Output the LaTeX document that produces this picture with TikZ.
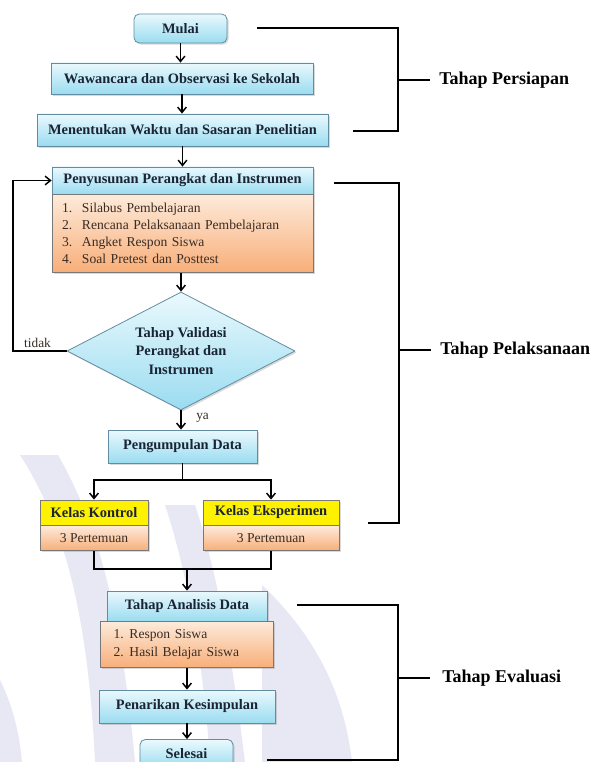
\documentclass[tikz,border=0pt]{standalone}
\usepackage{fontspec}
\setmainfont{Liberation Serif}
\usetikzlibrary{arrows.meta,shapes.geometric,shadows,positioning}

\begin{document}
\begin{tikzpicture}[x=0.75pt, y=-0.75pt,
    boxfont/.style={font=\fontsize{10.8}{13}\selectfont\bfseries, text=headtext},
    listfont/.style={font=\fontsize{10.2}{12.75}\selectfont, text=listtext},
    softshadow/.style={drop shadow={shadow xshift=1.2pt, shadow yshift=-1.2pt, opacity=0.3}},
    cyanbox/.style={rectangle, draw=cyanline, line width=0.6pt, top color=cyantop, bottom color=cyanbot, boxfont, inner sep=0pt, softshadow},
    orangebox/.style={rectangle, draw=orangeline, line width=0.6pt, top color=orangetop, bottom color=orangebot, listfont, softshadow},
    yellowbox/.style={rectangle, draw=orangeline, line width=0.6pt, fill=yellow, boxfont, inner sep=0pt, softshadow},
    decision/.style={diamond, aspect=2, draw=cyanline, line width=0.6pt, top color=cyantop, bottom color=cyanbot, boxfont, align=center, inner sep=0pt, softshadow},
    flow/.style={line width=1.1pt, -{Straight Barb[length=4pt, width=6.5pt]}},
    joinline/.style={line width=1.1pt},
    bracket/.style={line width=1.5pt},
    phase/.style={font=\fontsize{13.5}{16}\selectfont\bfseries, text=black, anchor=west, inner sep=0pt},
    note/.style={font=\fontsize{10}{12}\selectfont, text=listtext, inner sep=0pt},
    watermark/.style={fill=logotint}
]
    % Define colors
    \definecolor{cyantop}{RGB}{234, 249, 253}
    \definecolor{cyanbot}{RGB}{154, 220, 240}
    \definecolor{cyanline}{RGB}{100, 140, 160}
    \definecolor{orangetop}{RGB}{253, 234, 218}
    \definecolor{orangebot}{RGB}{248, 174, 120}
    \definecolor{orangeline}{RGB}{120, 120, 120}
    \definecolor{headtext}{RGB}{26, 36, 52}
    \definecolor{listtext}{RGB}{58, 44, 36}
    \definecolor{logotint}{RGB}{231, 232, 244}

    % Page frame
    \useasboundingbox (0,0) rectangle (593,762);

    % Faint logo in the background
    \fill[watermark] (20,455) -- (58,455) .. controls (95,520) and (120,600) .. (135,762) -- (95,762) .. controls (88,610) and (62,520) .. (20,455) -- cycle;
    \fill[watermark] (165,505) -- (195,505) .. controls (220,580) and (235,680) .. (245,762) -- (210,762) .. controls (205,680) and (190,580) .. (165,505) -- cycle;
    \fill[watermark] (262,585) .. controls (320,640) and (345,700) .. (352,762) -- (262,762) -- cycle;
    \fill[watermark] (0,680) .. controls (15,710) and (20,740) .. (22,762) -- (0,762) -- cycle;

    % Preparation steps
    \node[cyanbox, rounded corners=4pt, minimum width=69.75pt, minimum height=21.75pt] (mulai) at (180.5, 28.5) {Mulai};
    \node[cyanbox, minimum width=196.5pt, minimum height=23.25pt] (wawancara) at (182, 78.5) {Wawancara dan Observasi ke Sekolah};
    \node[cyanbox, minimum width=218.25pt, minimum height=24pt] (waktu) at (182.5, 130) {Menentukan Waktu dan Sasaran Penelitian};

    % Instrument preparation (header + list)
    \node[cyanbox, minimum width=195.75pt, minimum height=20.25pt] (susunhead) at (182.5, 180.5) {Penyusunan Perangkat dan Instrumen};
    \node[orangebox, anchor=north, text width=180.75pt, inner xsep=7.5pt, inner ysep=0pt, minimum height=58.5pt, align=left] (susunbody) at (susunhead.south) {%
        \makebox[15pt][l]{1.}Silabus Pembelajaran\\
        \makebox[15pt][l]{2.}Rencana Pelaksanaan Pembelajaran\\
        \makebox[15pt][l]{3.}Angket Respon Siswa\\
        \makebox[15pt][l]{4.}Soal Pretest dan Posttest};

    % Validation
    \node[decision, minimum width=171pt, minimum height=88.5pt, font=\fontsize{10.8}{13.9}\selectfont\bfseries] (validasi) at (181, 351) {Tahap Validasi\\Perangkat dan\\Instrumen};

    % Data collection
    \node[cyanbox, minimum width=111.75pt, minimum height=24.75pt] (kumpul) at (182.5, 446.5) {Pengumpulan Data};

    % Control and experiment classes
    \node[yellowbox, minimum width=81pt, minimum height=18.75pt] (kontrolhead) at (94, 512.5) {Kelas Kontrol};
    \node[orangebox, anchor=north, minimum width=81pt, minimum height=18.75pt, inner sep=0pt] (kontrolbody) at (kontrolhead.south) {3 Pertemuan};
    \node[yellowbox, minimum width=102pt, minimum height=18.75pt] (ekshead) at (271, 512.5) {Kelas Eksperimen};
    \node[orangebox, anchor=north, minimum width=102pt, minimum height=18.75pt, inner sep=0pt] (eksbody) at (ekshead.south) {3 Pertemuan};

    % Analysis (header + list)
    \node[cyanbox, minimum width=120pt, minimum height=22.5pt] (analisishead) at (187, 606) {Tahap Analisis Data};
    \node[orangebox, anchor=north, text width=110.25pt, inner xsep=9.75pt, inner ysep=0pt, minimum height=34.5pt, align=left, font=\fontsize{10.2}{13.5}\selectfont] (analisisbody) at (analisishead.south) {%
        \makebox[12pt][l]{1.}Respon Siswa\\
        \makebox[12pt][l]{2.}Hasil Belajar Siswa};

    % Conclusion and end
    \node[cyanbox, minimum width=132pt, minimum height=24.75pt] (simpulan) at (187, 706.5) {Penarikan Kesimpulan};
    \node[cyanbox, rounded corners=4pt, minimum width=69.75pt, minimum height=21.75pt] (selesai) at (186.5, 754) {Selesai};

    % Arrows showing the flow
    \draw[flow] (mulai.south) -- (mulai.south |- wawancara.north);
    \draw[flow] (wawancara.south) -- (wawancara.south |- waktu.north);
    \draw[flow] (waktu.south) -- (susunhead.north);
    \draw[flow] (susunbody.south -| validasi.north) -- (validasi.north);

    % Revision loop
    \coordinate (loop) at (13, 351);
    \draw[flow] (validasi.west) -- (loop) |- (susunhead.west);
    \node[note, anchor=south] (tidak) at (37.5, 348) {tidak};

    % Accepted
    \draw[flow] (validasi.south) -- (validasi.south |- kumpul.north);
    \node[note, anchor=west] (ya) at (196, 418) {ya};

    % Split into classes
    \coordinate (split) at (182.5, 480);
    \draw[joinline] (kumpul.south) -- (split);
    \draw[flow] (split) -| (kontrolhead.north);
    \draw[flow] (split) -| (ekshead.north);

    % Join after classes
    \coordinate (join) at (187, 569);
    \draw[joinline] (kontrolbody.south) |- (join);
    \draw[joinline] (eksbody.south) |- (join);
    \draw[flow] (join) -- (analisishead.north);
    \draw[flow] (analisisbody.south) -- (simpulan.north);
    \draw[flow] (simpulan.south) -- (simpulan.south |- selesai.north);

    % Phase brackets
    \node[phase] (persiapan) at (439, 80) {Tahap Persiapan};
    \draw[bracket] (257, 28) -- (398, 28) -- (398, 131) -- (353, 131);
    \draw[bracket] (398, 80) -- (430, 80);

    \node[phase] (pelaksanaan) at (440, 350) {Tahap Pelaksanaan};
    \draw[bracket] (334, 183) -- (399, 183) -- (399, 523) -- (368, 523);
    \draw[bracket] (399, 350) -- (431, 350);

    \node[phase] (evaluasi) at (442, 678) {Tahap Evaluasi};
    \draw[bracket] (297, 605) -- (398, 605) -- (398, 760) -- (267, 760);
    \draw[bracket] (398, 678) -- (430, 678);
\end{tikzpicture}
\end{document}
